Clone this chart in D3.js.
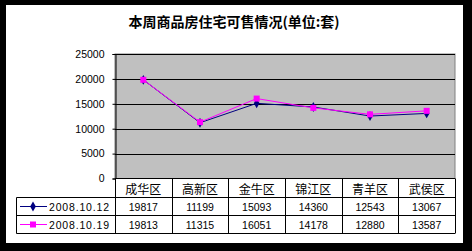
<!DOCTYPE html>
<html><head><meta charset="utf-8">
<script src="https://cdn.jsdelivr.net/npm/d3@7"></script>
<style>html,body{margin:0;padding:0;background:#000;}svg{display:block;}</style>
</head><body>
<script>
const title = "本周商品房住宅可售情况(单位:套)";
const categories = ["成华区","高新区","金牛区","锦江区","青羊区","武侯区"];
const seriesNames = ["2008.10.12","2008.10.19"];
const series1 = [19817,11199,15093,14360,12543,13067];
const series2 = [19813,11315,16051,14178,12880,13587];
const yTicks = [0,5000,10000,15000,20000,25000];

const W=472,H=251;
const svg=d3.select("body").append("svg").attr("width",W).attr("height",H);
svg.append("rect").attr("width",W).attr("height",H).attr("fill","#000");
svg.append("rect").attr("x",6).attr("y",5).attr("width",457).attr("height",238).attr("fill","#fff");

const L=115,R=455,T=54,B=178.5;
const x=d3.scaleBand().domain(categories).range([L,R]);
const y=d3.scaleLinear().domain([0,25000]).range([B,T]);

svg.append("text").attr("x",234).attr("y",27).attr("text-anchor","middle")
  .attr("font-family","'Noto Sans CJK SC'").attr("font-weight","bold").attr("font-size",14)
  .attr("fill","#000").text(title);

// plot area
svg.append("rect").attr("x",L).attr("y",T).attr("width",R-L).attr("height",B-T)
  .attr("fill","#c0c0c0").attr("stroke","#808080").attr("stroke-width",1);

// gridlines
svg.append("g").selectAll("line").data(yTicks.filter(d=>d>0)).join("line")
  .attr("x1",L).attr("x2",R).attr("y1",d=>Math.round(y(d))+0.5).attr("y2",d=>Math.round(y(d))+0.5)
  .attr("stroke","#000").attr("stroke-width",1);

// y axis
const yAxis=d3.axisLeft(y).tickValues(yTicks).tickSize(3).tickPadding(8).tickFormat(d3.format("d"));
const ga=svg.append("g").attr("transform",`translate(${L+0.5},0)`).call(yAxis);
ga.select(".domain").attr("stroke","#000");
ga.selectAll(".tick line").attr("stroke","#000");
ga.selectAll(".tick text").attr("font-family","'Liberation Sans',Arial").attr("font-size",10.5).attr("fill","#000");

// table
const rowTop=[B,197.5,215.5,233.5];
const tbl=svg.append("g").attr("stroke","#000").attr("stroke-width",1);
tbl.append("line").attr("x1",L).attr("x2",R).attr("y1",B).attr("y2",B);
tbl.append("line").attr("x1",16.5).attr("x2",R).attr("y1",rowTop[1]).attr("y2",rowTop[1]);
tbl.append("line").attr("x1",16.5).attr("x2",R).attr("y1",rowTop[2]).attr("y2",rowTop[2]);
tbl.append("line").attr("x1",16.5).attr("x2",R).attr("y1",rowTop[3]).attr("y2",rowTop[3]);
tbl.append("line").attr("x1",16.5).attr("x2",16.5).attr("y1",rowTop[1]).attr("y2",rowTop[3]);
const bounds=categories.map(c=>x(c)).concat([R]);
tbl.selectAll("line.v").data(bounds).join("line").attr("class","v")
  .attr("x1",d=>Math.round(d)+0.5).attr("x2",d=>Math.round(d)+0.5).attr("y1",B).attr("y2",rowTop[3]);

svg.append("g").selectAll("text").data(categories).join("text")
  .attr("x",d=>x(d)+x.bandwidth()/2).attr("y",193.5).attr("text-anchor","middle")
  .attr("font-family","'Noto Sans CJK SC'").attr("font-size",12).attr("fill","#000").text(d=>d);

const rows=[series1,series2];
rows.forEach((vals,i)=>{
  svg.append("g").selectAll("text").data(vals).join("text")
    .attr("x",(d,j)=>x(categories[j])+x.bandwidth()/2).attr("y",rowTop[i+1]+13)
    .attr("text-anchor","middle").attr("font-family","'Liberation Sans',Arial").attr("font-size",10.5)
    .attr("fill","#000").text(d=>d);
});

const colors=["#000080","#ff00ff"];
const diamond=d3.symbol().type(d3.symbolDiamond).size(28);
const square=d3.symbol().type(d3.symbolSquare).size(36);
const syms=[diamond,square];

// legend
seriesNames.forEach((n,i)=>{
  const cy=rowTop[i+1]+9;
  svg.append("line").attr("x1",20).attr("x2",47).attr("y1",cy).attr("y2",cy).attr("stroke",colors[i]).attr("stroke-width",1);
  svg.append("path").attr("d",syms[i]()).attr("transform",`translate(33,${cy})`).attr("fill",colors[i]);
  svg.append("text").attr("x",49).attr("y",rowTop[i+1]+13).attr("font-family","'Liberation Sans',Arial")
    .attr("font-size",10.5).attr("textLength",60).attr("lengthAdjust","spacing").attr("fill","#000").text(n);
});

// lines
const line=d3.line().x((d,j)=>x(categories[j])+x.bandwidth()/2).y(d=>y(d));
rows.forEach((vals,i)=>{
  svg.append("path").datum(vals).attr("d",line).attr("fill","none").attr("stroke",colors[i]).attr("stroke-width",1);
  svg.append("g").selectAll("path").data(vals).join("path").attr("d",syms[i]())
    .attr("transform",(d,j)=>`translate(${x(categories[j])+x.bandwidth()/2},${y(d)})`).attr("fill",colors[i]);
});
</script>
</body></html>
